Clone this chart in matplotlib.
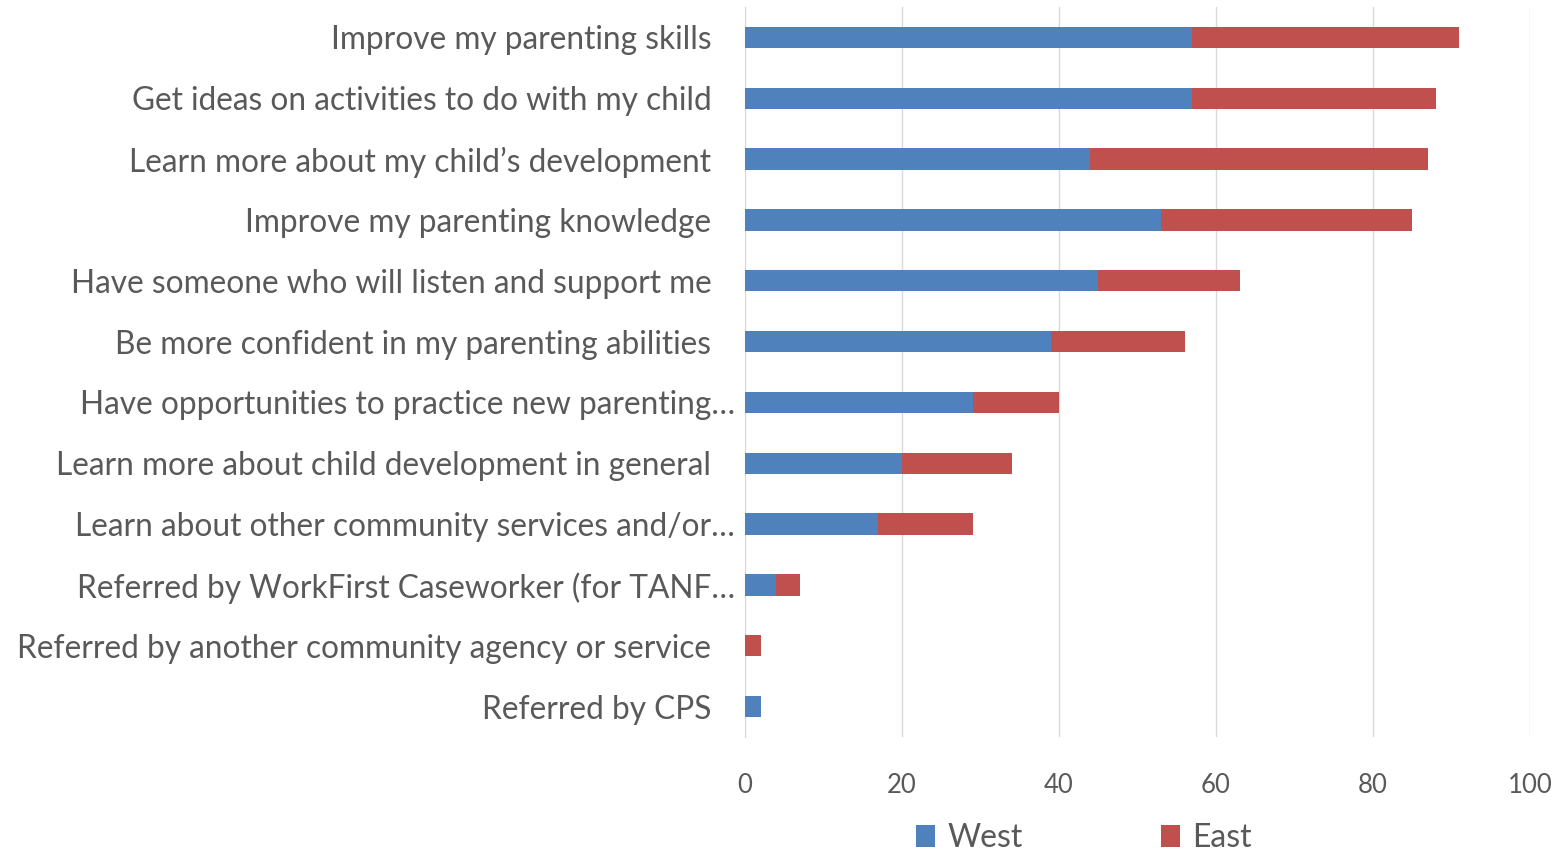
import matplotlib
matplotlib.use("Agg")
import matplotlib.pyplot as plt
import matplotlib.transforms as mtransforms
import numpy as np

categories = [
    "Improve my parenting skills",
    "Get ideas on activities to do with my child",
    "Learn more about my child\u2019s development",
    "Improve my parenting knowledge",
    "Have someone who will listen and support me",
    "Be more confident in my parenting abilities",
    "Have opportunities to practice new parenting\u2026",
    "Learn more about child development in general",
    "Learn about other community services and/or\u2026",
    "Referred by WorkFirst Caseworker (for TANF\u2026",
    "Referred by another community agency or service",
    "Referred by CPS",
]
west = [57, 57, 44, 53, 45, 39, 29, 20, 17, 4, 0, 2]
east = [34, 31, 43, 32, 18, 17, 11, 14, 12, 3, 2, 0]
series_names = ["West", "East"]
xticks = [0, 20, 40, 60, 80, 100]

plt.rcParams['font.family'] = ['Lato', 'DejaVu Sans']
text_color = "#595959"

fig = plt.figure(figsize=(15.6, 8.51), dpi=100)
ax = fig.add_axes([745/1560, 1 - 737/851, (1530-745)/1560, (737-7)/851])

y = np.arange(len(categories))
h = 0.35
ax.barh(y, west, height=h, color="#4f81bd", label=series_names[0], zorder=3)
ax.barh(y, east, left=west, height=h, color="#c0504d", label=series_names[1], zorder=3)

ax.set_ylim(len(categories) - 0.5, -0.5)
ax.set_xlim(0, 100)
ax.set_yticks(y)
ax.set_yticklabels(categories, fontsize=22.8, color=text_color)
ax.set_xticks(xticks)
ax.set_xticklabels([str(t) for t in xticks], fontsize=18.5, color=text_color)
ax.tick_params(axis='both', length=0)
ax.tick_params(axis='y', pad=7)
ax.tick_params(axis='x', pad=26)
ax.xaxis.grid(True, color="#d9d9d9", linewidth=1, zorder=0)
for s in ["top", "right", "bottom"]:
    ax.spines[s].set_visible(False)
ax.spines["left"].set_color("#d9d9d9")

# labels without ellipsis sit a bit further left
shift = mtransforms.ScaledTranslation(-24/100, 0, fig.dpi_scale_trans)
for lbl in ax.get_yticklabels():
    if not lbl.get_text().endswith("\u2026"):
        lbl.set_transform(lbl.get_transform() + shift)

leg = fig.legend(loc="center", bbox_to_anchor=(1084/1560, 1 - 838/851), ncol=2,
                 frameon=False, fontsize=23, handlelength=0.6, handleheight=0.7,
                 columnspacing=4.3, handletextpad=0.4)
for t in leg.get_texts():
    t.set_color(text_color)

fig.savefig("out.png", dpi=100, facecolor="white")
